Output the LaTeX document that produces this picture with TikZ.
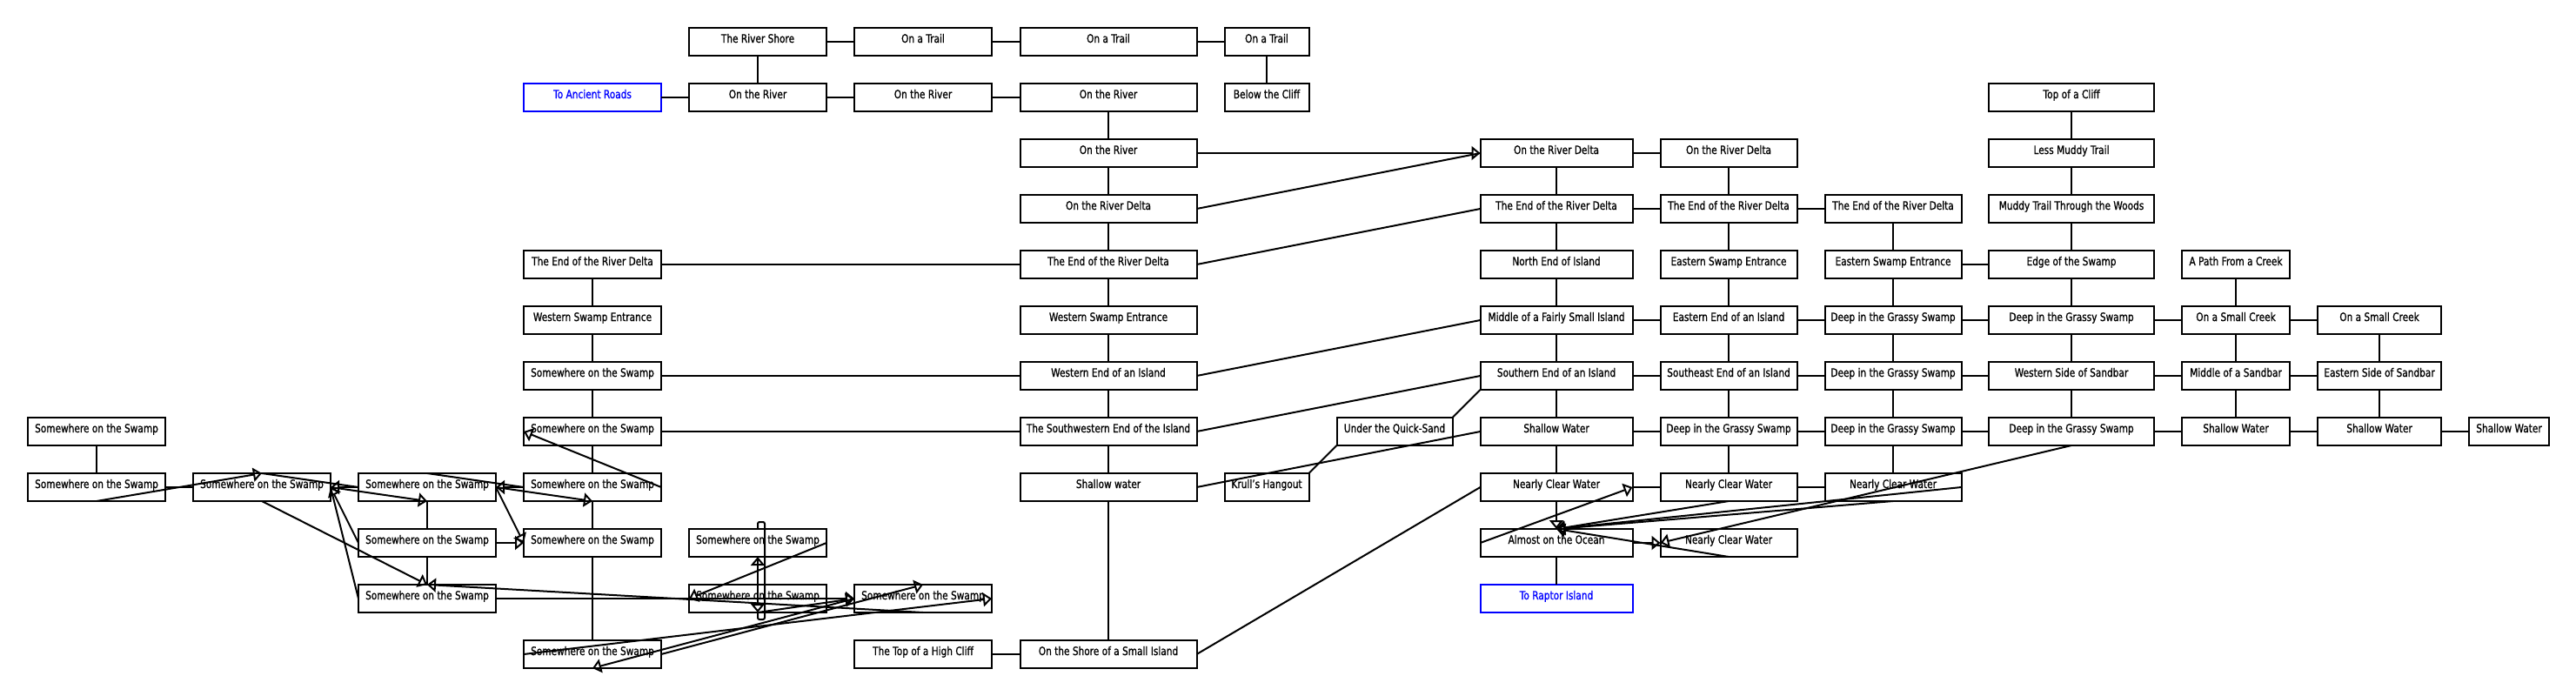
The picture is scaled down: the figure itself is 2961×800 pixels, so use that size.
\documentclass[tikz,border=0pt]{standalone}
\usepackage{fontspec}
\setmainfont{DejaVu Sans}[FakeStretch=0.8,FakeBold=1]
\usetikzlibrary{arrows.meta}
\begin{document}
\begin{tikzpicture}[x=1pt,y=-1pt,
  room/.style={draw,line width=2pt,minimum height=32pt,inner sep=0pt,outer sep=0pt,
    text height=2pt,text depth=0pt,font=\fontsize{13.2}{15}\selectfont},
  wS/.style={minimum width=158pt},
  wG/.style={minimum width=203pt},
  wH/.style={minimum width=97pt},
  wI/.style={minimum width=133pt},
  wJ/.style={minimum width=175pt},
  wK/.style={minimum width=157pt},
  wM/.style={minimum width=190pt},
  wN/.style={minimum width=124pt},
  wO/.style={minimum width=142pt},
  wP/.style={minimum width=92pt},
  exitroom/.style={draw=blue,text=blue},
  link/.style={line width=2pt},
  arr/.style={link,-{Triangle[open,length=10pt,width=16pt]}},
  loopline/.style={link,rounded corners=2pt}]
\useasboundingbox (0,0) rectangle (2961,800);
\fill[white] (0,0) rectangle (2961,800);
% row 0
\node[room,wS] (e0) at (871,48) {The River Shore};
\node[room,wS] (f0) at (1061,48) {On a Trail};
\node[room,wG] (g0) at (1274,48) {On a Trail};
\node[room,wH] (h0) at (1456,48) {On a Trail};
% row 1
\node[room,wS,exitroom] (d1) at (681,112) {To Ancient Roads};
\node[room,wS] (e1) at (871,112) {On the River};
\node[room,wS] (f1) at (1061,112) {On the River};
\node[room,wG] (g1) at (1274,112) {On the River};
\node[room,wH] (h1) at (1456,112) {Below the Cliff};
\node[room,wM] (m1) at (2381,112) {Top of a Cliff};
% row 2
\node[room,wG] (g2) at (1274,176) {On the River};
\node[room,wJ] (j2) at (1789,176) {On the River Delta};
\node[room,wK] (k2) at (1987,176) {On the River Delta};
\node[room,wM] (m2) at (2381,176) {Less Muddy Trail};
% row 3
\node[room,wG] (g3) at (1274,240) {On the River Delta};
\node[room,wJ] (j3) at (1789,240) {The End of the River Delta};
\node[room,wK] (k3) at (1987,240) {The End of the River Delta};
\node[room,wK] (l3) at (2176,240) {The End of the River Delta};
\node[room,wM] (m3) at (2381,240) {Muddy Trail Through the Woods};
% row 4
\node[room,wS] (d4) at (681,304) {The End of the River Delta};
\node[room,wG] (g4) at (1274,304) {The End of the River Delta};
\node[room,wJ] (j4) at (1789,304) {North End of Island};
\node[room,wK] (k4) at (1987,304) {Eastern Swamp Entrance};
\node[room,wK] (l4) at (2176,304) {Eastern Swamp Entrance};
\node[room,wM] (m4) at (2381,304) {Edge of the Swamp};
\node[room,wN] (n4) at (2570,304) {A Path From a Creek};
% row 5
\node[room,wS] (d5) at (681,368) {Western Swamp Entrance};
\node[room,wG] (g5) at (1274,368) {Western Swamp Entrance};
\node[room,wJ] (j5) at (1789,368) {Middle of a Fairly Small Island};
\node[room,wK] (k5) at (1987,368) {Eastern End of an Island};
\node[room,wK] (l5) at (2176,368) {Deep in the Grassy Swamp};
\node[room,wM] (m5) at (2381,368) {Deep in the Grassy Swamp};
\node[room,wN] (n5) at (2570,368) {On a Small Creek};
\node[room,wO] (o5) at (2735,368) {On a Small Creek};
% row 6
\node[room,wS] (d6) at (681,432) {Somewhere on the Swamp};
\node[room,wG] (g6) at (1274,432) {Western End of an Island};
\node[room,wJ] (j6) at (1789,432) {Southern End of an Island};
\node[room,wK] (k6) at (1987,432) {Southeast End of an Island};
\node[room,wK] (l6) at (2176,432) {Deep in the Grassy Swamp};
\node[room,wM] (m6) at (2381,432) {Western Side of Sandbar};
\node[room,wN] (n6) at (2570,432) {Middle of a Sandbar};
\node[room,wO] (o6) at (2735,432) {Eastern Side of Sandbar};
% row 7
\node[room,wS] (a7) at (111,496) {Somewhere on the Swamp};
\node[room,wS] (d7) at (681,496) {Somewhere on the Swamp};
\node[room,wG] (g7) at (1274,496) {The Southwestern End of the Island};
\node[room,wI] (i7) at (1603,496) {Under the Quick-Sand};
\node[room,wJ] (j7) at (1789,496) {Shallow Water};
\node[room,wK] (k7) at (1987,496) {Deep in the Grassy Swamp};
\node[room,wK] (l7) at (2176,496) {Deep in the Grassy Swamp};
\node[room,wM] (m7) at (2381,496) {Deep in the Grassy Swamp};
\node[room,wN] (n7) at (2570,496) {Shallow Water};
\node[room,wO] (o7) at (2735,496) {Shallow Water};
\node[room,wP] (p7) at (2884,496) {Shallow Water};
% row 8
\node[room,wS] (a8) at (111,560) {Somewhere on the Swamp};
\node[room,wS] (b8) at (301,560) {Somewhere on the Swamp};
\node[room,wS] (c8) at (491,560) {Somewhere on the Swamp};
\node[room,wS] (d8) at (681,560) {Somewhere on the Swamp};
\node[room,wG] (g8) at (1274,560) {Shallow water};
\node[room,wH] (h8) at (1456,560) {Krull's Hangout};
\node[room,wJ] (j8) at (1789,560) {Nearly Clear Water};
\node[room,wK] (k8) at (1987,560) {Nearly Clear Water};
\node[room,wK] (l8) at (2176,560) {Nearly Clear Water};
% row 9
\node[room,wS] (c9) at (491,624) {Somewhere on the Swamp};
\node[room,wS] (d9) at (681,624) {Somewhere on the Swamp};
\node[room,wS] (e9) at (871,624) {Somewhere on the Swamp};
\node[room,wJ] (j9) at (1789,624) {Almost on the Ocean};
\node[room,wK] (k9) at (1987,624) {Nearly Clear Water};
% row 10
\node[room,wS] (c10) at (491,688) {Somewhere on the Swamp};
\node[room,wS] (e10) at (871,688) {Somewhere on the Swamp};
\node[room,wS] (f10) at (1061,688) {Somewhere on the Swamp};
\node[room,wJ,exitroom] (j10) at (1789,688) {To Raptor Island};
% row 11
\node[room,wS] (d11) at (681,752) {Somewhere on the Swamp};
\node[room,wS] (f11) at (1061,752) {The Top of a High Cliff};
\node[room,wG] (g11) at (1274,752) {On the Shore of a Small Island};

% ---- plain links: top area
\draw[link] (e0) -- (f0);
\draw[link] (f0) -- (g0);
\draw[link] (g0) -- (h0);
\draw[link] (e0) -- (e1);
\draw[link] (h0) -- (h1);
\draw[link] (d1) -- (e1);
\draw[link] (e1) -- (f1);
\draw[link] (f1) -- (g1);
% column g
\draw[link] (g1) -- (g2);
\draw[link] (g2) -- (g3);
\draw[link] (g3) -- (g4);
\draw[link] (g4) -- (g5);
\draw[link] (g5) -- (g6);
\draw[link] (g6) -- (g7);
\draw[link] (g7) -- (g8);
\draw[link] (g8) -- (g11);
\draw[arr] (g2.east) -- (j2.west);
\draw[link] (g3.east) -- (j2.west);
\draw[link] (g4.east) -- (j3.west);
\draw[link] (d4.east) -- (g4.west);
\draw[link] (d6.east) -- (g6.west);
\draw[link] (g6.east) -- (j5.west);
\draw[link] (d7.east) -- (g7.west);
\draw[link] (g7.east) -- (j6.west);
\draw[link] (g8.east) -- (j7.west);
\draw[link] (h8.north east) -- (i7.south west);
\draw[link] (i7.north east) -- (j6.south west);
\draw[link] (f11) -- (g11);
\draw[link] (g11.east) -- (j8.west);
% column d
\draw[link] (d4) -- (d5);
\draw[link] (d5) -- (d6);
\draw[link] (d6) -- (d7);
\draw[link] (d7) -- (d8);
\draw[link] (d8) -- (d9);
\draw[link] (d9) -- (d11);
% right area
\draw[link] (j2) -- (k2);
\draw[link] (j2) -- (j3);
\draw[link] (k2) -- (k3);
\draw[link] (j3) -- (k3);
\draw[link] (k3) -- (l3);
\draw[link] (j3) -- (j4);
\draw[link] (j4) -- (j5);
\draw[link] (j5) -- (j6);
\draw[link] (j6) -- (j7);
\draw[link] (j7) -- (j8);
\draw[link] (j9) -- (j10);
\draw[link] (k3) -- (k4);
\draw[link] (k4) -- (k5);
\draw[link] (k5) -- (k6);
\draw[link] (k6) -- (k7);
\draw[link] (k7) -- (k8);
\draw[link] (l3) -- (l4);
\draw[link] (l4) -- (l5);
\draw[link] (l5) -- (l6);
\draw[link] (l6) -- (l7);
\draw[link] (l7) -- (l8);
\draw[link] (l4) -- (m4);
\draw[link] (j5) -- (k5);
\draw[link] (k5) -- (l5);
\draw[link] (l5) -- (m5);
\draw[link] (m5) -- (n5);
\draw[link] (n5) -- (o5);
\draw[link] (j6) -- (k6);
\draw[link] (k6) -- (l6);
\draw[link] (l6) -- (m6);
\draw[link] (m6) -- (n6);
\draw[link] (n6) -- (o6);
\draw[link] (j7) -- (k7);
\draw[link] (k7) -- (l7);
\draw[link] (l7) -- (m7);
\draw[link] (m7) -- (n7);
\draw[link] (n7) -- (o7);
\draw[link] (o7) -- (p7);
\draw[link] (j8) -- (k8);
\draw[link] (k8) -- (l8);
\draw[link] (m1) -- (m2);
\draw[link] (m2) -- (m3);
\draw[link] (m3) -- (m4);
\draw[link] (m4) -- (m5);
\draw[link] (m5) -- (m6);
\draw[link] (m6) -- (m7);
\draw[link] (n4) -- (n5);
\draw[link] (n5) -- (n6);
\draw[link] (n6) -- (n7);
\draw[link] (o5) -- (o6);
\draw[link] (o6) -- (o7);
% one-way exits near the ocean
\draw[arr] (j8.south) -- (j9.north);
\draw[arr] (k8.south) -- (j9.north);
\draw[arr] (l8.south) -- (j9.north);
\draw[arr] (l8.east) -- (j9.north);
\draw[arr] (k9.south) -- (j9.north);
\draw[arr] (m7.south) -- (k9.west);
\draw[arr] (j9.east) -- (k9.west);
\draw[arr] (j9.west) -- (j8.east);

% ---- the swamp maze
\draw[link] (a7) -- (a8);
\draw[link] (a8) -- (b8);
\draw[arr] (a8.south) -- (b8.north);
\draw[link] (b8.north) -- (c8.west);
\draw[arr] (c8.west) -- (b8.east);
\draw[arr] (b8.east) -- (c8.south);
\draw[arr] (c9.west) -- (b8.east);
\draw[link] (c10.west) -- (b8.east);
\draw[arr] (b8.south) -- (c10.north);
\draw[link] (c8) -- (c9);
\draw[link] (c9) -- (c10);
\draw[link] (c8.north) -- (d8.west);
\draw[arr] (d8.west) -- (c8.east);
\draw[arr] (c8.east) -- (d8.south);
\draw[arr] (c8.east) -- (d9.west);
\draw[arr] (c9.east) -- (d9.west);
\draw[arr] (d8.east) -- (d7.west);
\draw[arr] (c10.east) -- (f10.west);
\draw[arr] (f10.south) -- (c10.north);
\draw[arr] (e9.east) -- (e10.west);
\draw[loopline] (e9.north) -- ++(0,-8) -- ++(8,0) -- ++(0,112) -- ++(-8,0) -- (e10.south);
\draw[arr] (e10.north) -- (e9.south);
\draw[arr] (e9.south) -- (e10.south);
\draw[arr] (e10.south) -- (f10.west);
\draw[arr] (d11.west) -- (f10.east);
\draw[arr] (d11.east) -- (f10.north);
\draw[arr] (f10.west) -- (d11.south);
\end{tikzpicture}
\end{document}
